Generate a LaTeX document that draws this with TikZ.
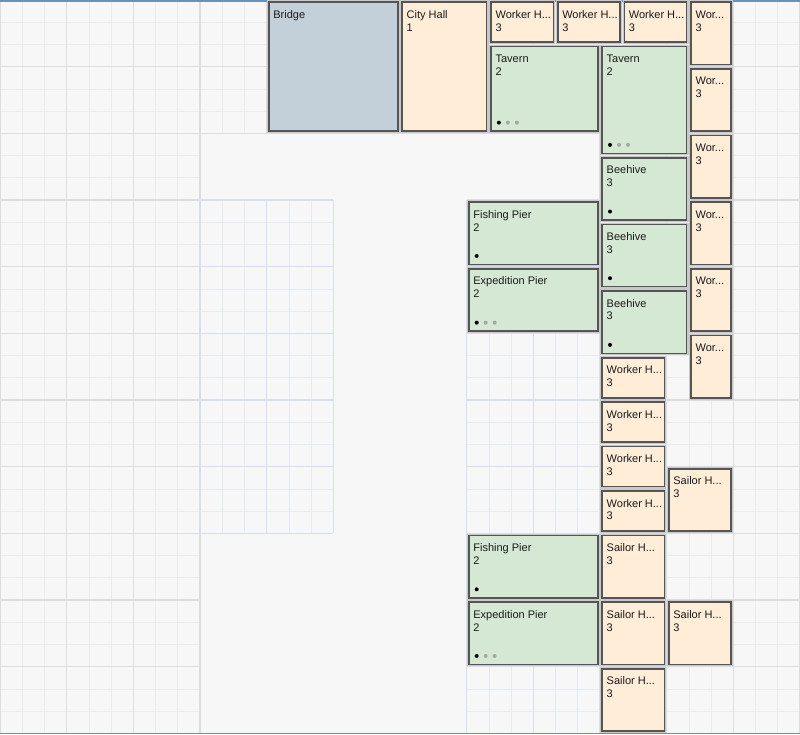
\documentclass[tikz,border=0pt]{standalone}
\usepackage{fontspec}
\setmainfont{Liberation Sans}
\definecolor{bgc}{HTML}{F7F7F7}
\definecolor{gminc}{HTML}{EBEBEB}
\definecolor{gmajc}{HTML}{DDDDDD}
\definecolor{bminc}{HTML}{E5EBF2}
\definecolor{bmajc}{HTML}{D6E0EC}
\definecolor{framec}{HTML}{6691C2}
\definecolor{bridgec}{HTML}{C3CFD9}
\definecolor{peachc}{HTML}{FFEDD8}
\definecolor{greenc}{HTML}{D5E8D4}
\definecolor{edgec}{HTML}{555555}
\definecolor{gapc}{HTML}{C8C8C8}
\definecolor{dotgc}{HTML}{A6A6A6}
\definecolor{txtc}{HTML}{1A1A1A}

\newcommand\gridreg[5]{%
  \foreach \i in {#1,...,#2} {\draw[#5min] (\i,#3) -- (\i,#4);}
  \foreach \j in {#3,...,#4} {\draw[#5min] (#1,\j) -- (#2,\j);}
  \foreach \i in {#1,...,#2} {\pgfmathtruncatemacro\gr{mod(\i,3)}\ifnum\gr=0 \draw[#5maj] (\i,#3) -- (\i,#4);\fi}
  \foreach \j in {#3,...,#4} {\pgfmathtruncatemacro\gr{mod(\j,3)}\ifnum\gr=0 \draw[#5maj] (#1,\j) -- (#2,\j);\fi}
}

\newcommand\bld[9]{%
  \fill[gapc] ([xshift=0.3pt,yshift=-0.3pt]#2,#3) rectangle ([xshift=-0.3pt,yshift=0.3pt]#4,#5);
  \draw[bldbox,fill=#6] ([xshift=2.2pt,yshift=-2.2pt]#2,#3) rectangle ([xshift=-2.2pt,yshift=2.2pt]#4,#5);
  \node[lbl] (#1t) at ([xshift=6.5pt,yshift=-18.3pt]#2,#3) {#7};
  \node[lbl] (#1n) at ([xshift=6.5pt,yshift=-31pt]#2,#3) {#8};
  \ifnum#9>0 \fill[black] ([xshift=10pt,yshift=10.7pt]#2,#5) circle (2pt);\fi
  \ifnum#9>1 \fill[dotgc] ([xshift=19pt,yshift=10.7pt]#2,#5) circle (2pt);
    \fill[dotgc] ([xshift=28pt,yshift=10.7pt]#2,#5) circle (2pt);\fi
}

\begin{document}
\begin{tikzpicture}[x=22.2222pt,y=-22.2222pt,
  gmin/.style={draw=gminc,line width=0.7pt},
  gmaj/.style={draw=gmajc,line width=1.5pt},
  bmin/.style={draw=bminc,line width=0.7pt},
  bmaj/.style={draw=bmajc,line width=1.5pt},
  bldbox/.style={draw=edgec,line width=1.6pt},
  lbl/.style={anchor=base west,inner sep=0pt,text=txtc,font=\fontsize{11pt}{13pt}\selectfont},
  ]
\useasboundingbox (0pt,0pt) rectangle (800pt,-734pt);
\fill[bgc] (0pt,0pt) rectangle (800pt,-734pt);

% grid patches
\gridreg{0}{9}{0}{33}{g}
\gridreg{9}{27}{0}{6}{g}
\gridreg{27}{36}{0}{33}{g}
\gridreg{9}{15}{9}{24}{b}
\gridreg{21}{27}{9}{33}{b}

% frame lines
\draw[framec,line width=1.5pt] (0pt,-0.75pt) -- (800pt,-0.75pt);
\draw[framec,line width=1.5pt] (0pt,-733.25pt) -- (800pt,-733.25pt);

% buildings
\bld{bridge}{12}{0}{18}{6}{bridgec}{Bridge}{}{0}
\bld{cityhall}{18}{0}{22}{6}{peachc}{City Hall}{1}{0}
\bld{wa}{22}{0}{25}{2}{peachc}{Worker H...}{3}{0}
\bld{wb}{25}{0}{28}{2}{peachc}{Worker H...}{3}{0}
\bld{wc}{28}{0}{31}{2}{peachc}{Worker H...}{3}{0}
\bld{va}{31}{0}{33}{3}{peachc}{Wor...}{3}{0}
\bld{vb}{31}{3}{33}{6}{peachc}{Wor...}{3}{0}
\bld{vc}{31}{6}{33}{9}{peachc}{Wor...}{3}{0}
\bld{vd}{31}{9}{33}{12}{peachc}{Wor...}{3}{0}
\bld{ve}{31}{12}{33}{15}{peachc}{Wor...}{3}{0}
\bld{vf}{31}{15}{33}{18}{peachc}{Wor...}{3}{0}
\bld{tava}{22}{2}{27}{6}{greenc}{Tavern}{2}{3}
\bld{tavb}{27}{2}{31}{7}{greenc}{Tavern}{2}{3}
\bld{bea}{27}{7}{31}{10}{greenc}{Beehive}{3}{1}
\bld{beb}{27}{10}{31}{13}{greenc}{Beehive}{3}{1}
\bld{bec}{27}{13}{31}{16}{greenc}{Beehive}{3}{1}
\bld{fpa}{21}{9}{27}{12}{greenc}{Fishing Pier}{2}{1}
\bld{epa}{21}{12}{27}{15}{greenc}{Expedition Pier}{2}{3}
\bld{wd}{27}{16}{30}{18}{peachc}{Worker H...}{3}{0}
\bld{we}{27}{18}{30}{20}{peachc}{Worker H...}{3}{0}
\bld{wf}{27}{20}{30}{22}{peachc}{Worker H...}{3}{0}
\bld{wg}{27}{22}{30}{24}{peachc}{Worker H...}{3}{0}
\bld{sa}{30}{21}{33}{24}{peachc}{Sailor H...}{3}{0}
\bld{fpb}{21}{24}{27}{27}{greenc}{Fishing Pier}{2}{1}
\bld{epb}{21}{27}{27}{30}{greenc}{Expedition Pier}{2}{3}
\bld{sb}{27}{24}{30}{27}{peachc}{Sailor H...}{3}{0}
\bld{sc}{27}{27}{30}{30}{peachc}{Sailor H...}{3}{0}
\bld{sd}{30}{27}{33}{30}{peachc}{Sailor H...}{3}{0}
\bld{se}{27}{30}{30}{33}{peachc}{Sailor H...}{3}{0}
\end{tikzpicture}
\end{document}
